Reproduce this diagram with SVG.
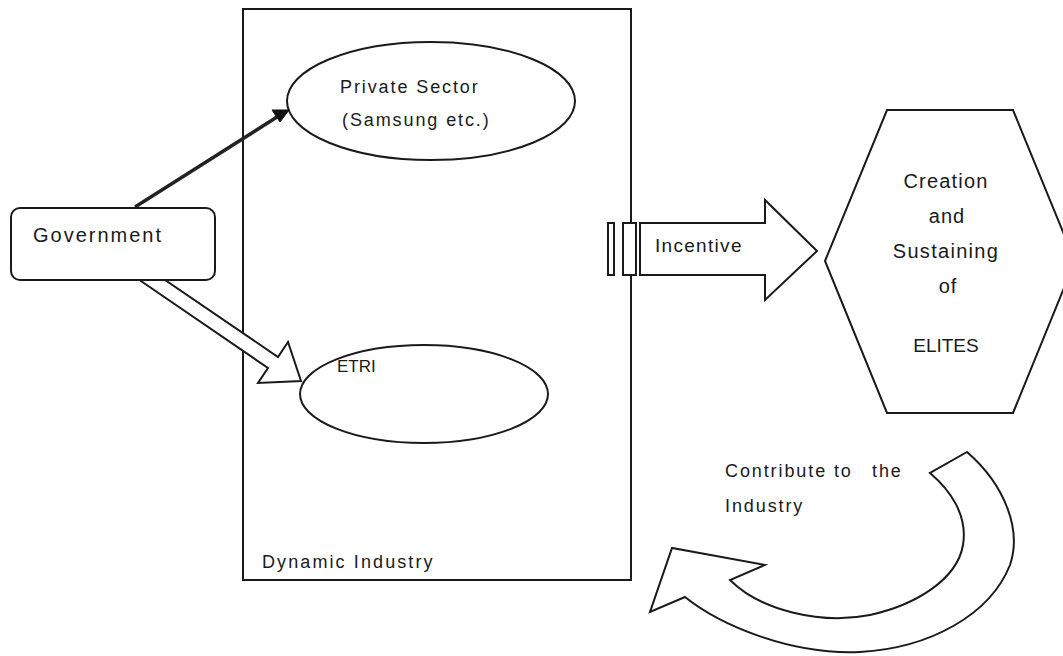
<svg xmlns="http://www.w3.org/2000/svg" width="1063" height="656" viewBox="0 0 1063 656">
<style>
.s{fill:#fff;stroke:#1a1a1a;stroke-width:2;stroke-linejoin:miter}
.t{font-family:"Liberation Sans",Arial,sans-serif;fill:#1a1a1a}
</style>
<rect width="1063" height="656" fill="#fff"/>
<g id="dynamic-industry">
<rect class="s" x="243" y="9" width="388" height="571"/>
<text class="t" x="262" y="568" font-size="18" letter-spacing="2.1">Dynamic Industry</text>
</g>
<g id="private-sector">
<ellipse class="s" cx="431" cy="101" rx="144" ry="59"/>
<text class="t" x="340" y="93" font-size="18" letter-spacing="1.9">Private Sector</text>
<text class="t" x="342" y="126" font-size="18" letter-spacing="1.9">(Samsung etc.)</text>
</g>
<g id="etri">
<ellipse class="s" cx="424" cy="394" rx="124" ry="49"/>
<text class="t" x="337" y="372" font-size="17">ETRI</text>
</g>
<g id="connectors">
<line x1="135" y1="207" x2="277" y2="117" stroke="#222" stroke-width="3.5"/>
<polygon points="289,110 280,122 272,110" fill="#111" stroke="#111" stroke-width="1"/>
<polygon class="s" points="138,279 268,368 258,383 301,381 288,342 278,357 165,280"/>
<rect class="s" x="608" y="223" width="6" height="52"/>
<rect class="s" x="623" y="223" width="13" height="52"/>
<polygon class="s" points="640,223 765,223 765,200 817,251 765,300 765,275 640,275"/>
<path class="s" d="M967 452 L930 473 C950 490 968 515 963 545 C957 580 915 605 870 615 C820 625 760 610 730 580 L765 565 L672 548 L650 612 L685 597 C720 625 790 655 860 652 C930 648 990 615 1010 565 C1022 530 1005 485 967 452 Z"/>
</g>
<g id="government">
<rect class="s" x="11" y="208" width="204" height="72" rx="9"/>
<text class="t" x="33" y="242" font-size="20" letter-spacing="2">Government</text>
</g>
<g id="incentive-label">
<text class="t" x="655" y="252" font-size="19" letter-spacing="1.3">Incentive</text>
</g>
<g id="elites">
<polygon class="s" points="887,110 1013,110 1075,261 1013,413 887,413 825,261"/>
<g class="t" font-size="20" text-anchor="middle">
<text x="946" y="188" letter-spacing="1.2">Creation</text>
<text x="947" y="223" letter-spacing="1">and</text>
<text x="946" y="258" letter-spacing="1.3">Sustaining</text>
<text x="948" y="293" letter-spacing="1">of</text>
<text x="946" y="352" font-size="19">ELITES</text>
</g>
</g>
<g id="contribute">
<text class="t" y="477" font-size="18" letter-spacing="1.9"><tspan x="725">Contribute to</tspan><tspan x="872">the</tspan></text>
<text class="t" x="725" y="512" font-size="18" letter-spacing="1.9">Industry</text>
</g>
</svg>
